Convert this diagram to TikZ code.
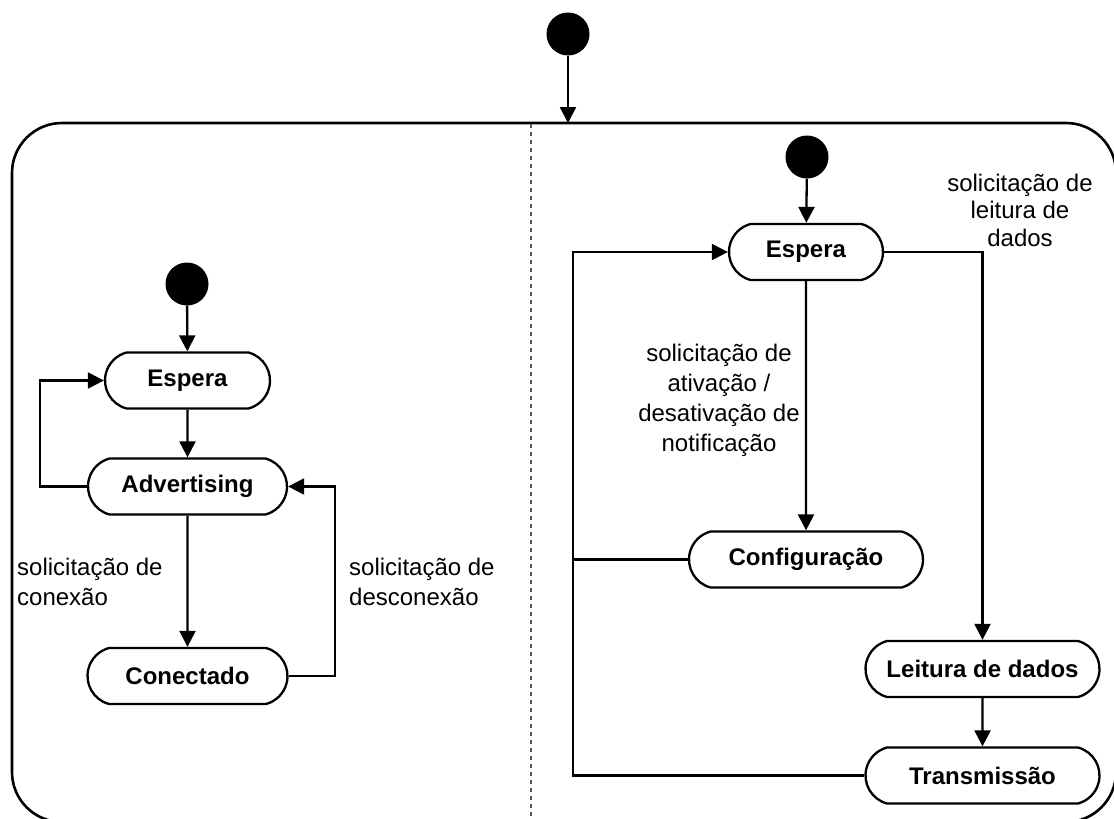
\documentclass[tikz,border=0pt]{standalone}
\usepackage{fontspec}
\setmainfont{Liberation Sans}
\usetikzlibrary{arrows.meta,shapes.misc}
\begin{document}
\begin{tikzpicture}[x=1pt,y=-1pt,
  state/.style={draw, line width=2.3pt, rounded rectangle, rounded rectangle arc length=150,
    minimum height=56pt, inner sep=0pt, font=\fontsize{24}{28}\selectfont\bfseries},
  initial/.style={circle, fill=black, minimum size=43pt, inner sep=0pt},
  flow/.style={line width=2.3pt, -{Triangle[length=16pt,width=16pt]}},
  link/.style={line width=2.3pt},
  lbl/.style={inner sep=0pt, font=\fontsize{24}{30}\selectfont},
  divider/.style={draw=black!65, line width=1.4pt, dash pattern=on 4pt off 4pt},
]
\useasboundingbox (0,0) rectangle (1114,819);

% outer composite state
\node[initial] (top0) at (568,34) {};
\draw[line width=2.6pt, rounded corners=50pt] (12,123) rectangle (1116,822);
\coordinate (frametop) at (568,123);
\draw[flow] (top0) -- (frametop);
\draw[divider] (531,124) -- (531,822);

% left region: connection states
\node[initial] (l0) at (187,284) {};
\node[state, minimum width=165pt] (lesp) at (187.5,380.5) {Espera};
\node[state, minimum width=199pt] (ladv) at (187.5,486.5) {Advertising};
\node[state, minimum width=200pt] (lcon) at (187.5,676) {Conectado};
\draw[flow] (l0) -- (lesp);
\draw[flow] (lesp) -- (ladv);
\draw[flow] (ladv.west) -- ++(-47,0) |- (lesp.west);
\draw[flow] (ladv) -- (lcon);
\draw[flow] (lcon.east) -- ++(46,0) |- (ladv.east);
\node[lbl, anchor=west, align=left] (lconx) at (17,582) {solicitação de\\conexão};
\node[lbl, anchor=west, align=left] (ldesc) at (349,582) {solicitação de\\desconexão};

% right region: data service states
\node[initial] (r0) at (807,157) {};
\node[state, minimum width=154pt] (resp) at (806,252) {Espera};
\node[state, minimum width=234pt] (rcfg) at (806,559.5) {Configuração};
\node[state, minimum width=234pt] (rlei) at (982.5,669) {Leitura de dados};
\node[state, minimum width=234pt] (rtra) at (982.5,775.5) {Transmissão};
\coordinate (ret) at (573,775.5);
\draw[flow] (r0) -- (resp);
\draw[flow] (resp) -- (rcfg);
\draw[flow] (resp.east) -| (rlei.north);
\draw[flow] (rlei) -- (rtra);
\draw[flow] (rtra.west) -- (ret) |- (resp.west);
\draw[link] (rcfg.west) -- (ret |- rcfg.west);
\node[lbl, align=center] (rnot) at (719,400) {solicitação de\\ativação /\\desativação de\\notificação};
\node[lbl, align=center, font=\fontsize{24}{27.5}\selectfont] (rlab) at (1020,210) {solicitação de\\leitura de\\dados};
\end{tikzpicture}
\end{document}
